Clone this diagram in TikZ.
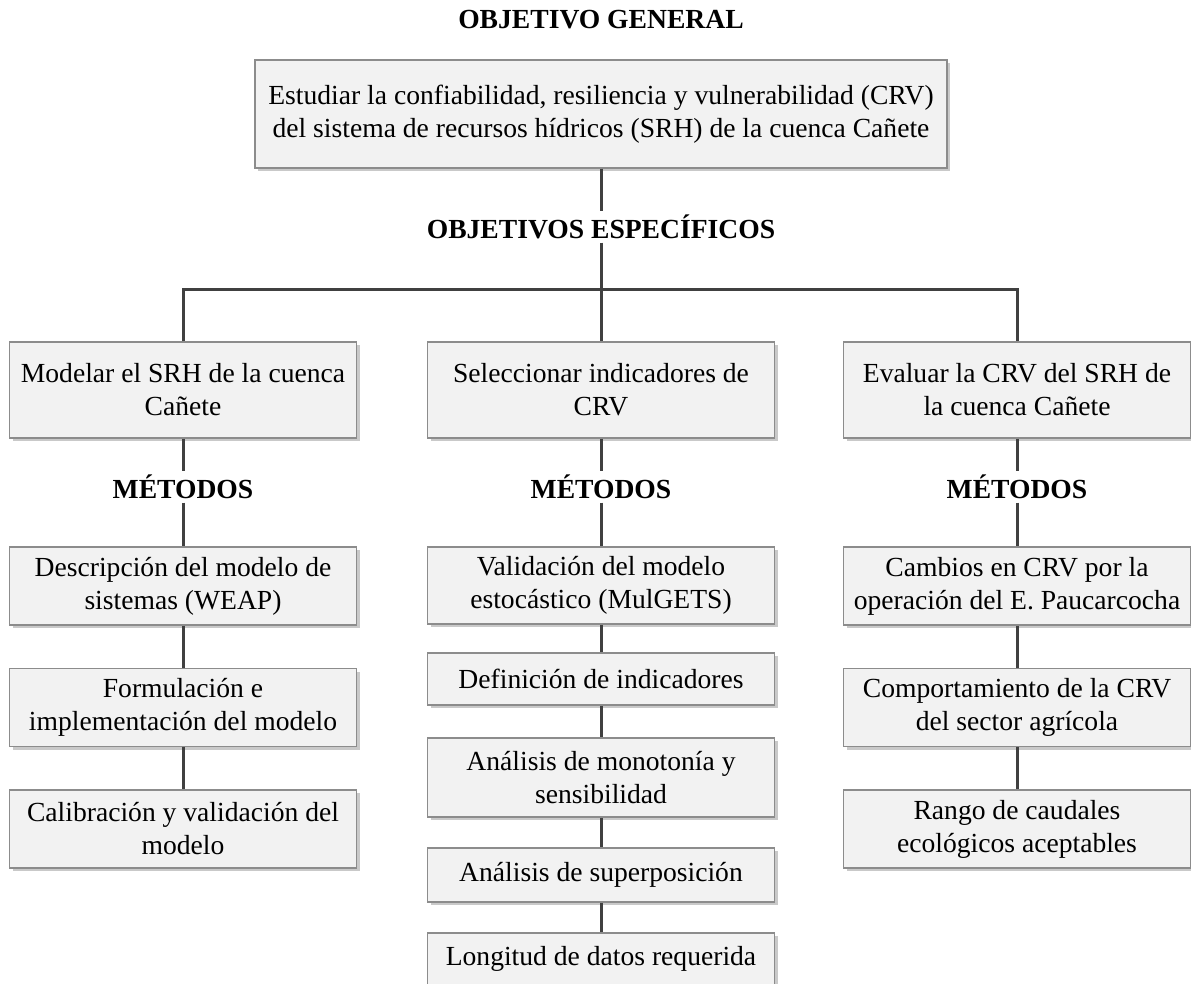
\documentclass[tikz,border=0pt]{standalone}
\usepackage{fontspec}
\setmainfont{Liberation Serif}
\usetikzlibrary{shadows}

\definecolor{boxfill}{HTML}{F2F2F2}
\definecolor{boxline}{HTML}{8C8C8C}
\definecolor{linkcol}{HTML}{404040}

\begin{document}
\begin{tikzpicture}[x=1pt, y=-1pt,
    every node/.style={font=\fontsize{27.6}{33}\selectfont},
    box/.style={draw=boxline, line width=1.5pt, fill=boxfill, align=center,
      inner sep=0pt, minimum width=347pt,
      drop shadow={shadow xshift=3pt, shadow yshift=-3pt, opacity=0.3, fill=black!70}},
    lbl/.style={font=\fontsize{27.6}{33}\selectfont\bfseries, inner sep=0pt, minimum height=31pt},
    link/.style={draw=linkcol, line width=3pt}]
    \useasboundingbox (0,0) rectangle (1191,984);

    % objetivo general
    \node[lbl] (tGen) at (601,20) {OBJETIVO GENERAL};
    \node[box, minimum width=692pt, minimum height=108pt] (gen) at (601,114)
      {Estudiar la confiabilidad, resiliencia y vulnerabilidad (CRV)\\del sistema de recursos hídricos (SRH) de la cuenca Cañete};
    \node[lbl] (tEsp) at (601,227) {OBJETIVOS ESPECÍFICOS};
    \coordinate (jM) at (601,290);

    % objetivos especificos
    \node[box, minimum height=96pt] (esp1) at (183,390) {Modelar el SRH de la cuenca\\Cañete};
    \node[box, minimum height=96pt] (esp2) at (601,390) {Seleccionar indicadores de\\CRV};
    \node[box, minimum height=96pt] (esp3) at (1017,390) {Evaluar la CRV del SRH de\\la cuenca Cañete};
    \foreach \x [count=\c] in {183, 601, 1017}
      \node[lbl] (met\c) at (\x,487) {MÉTODOS};

    % metodos
    \node[box, minimum height=78pt] (a1) at (183,586) {Descripción del modelo de\\sistemas (WEAP)};
    \node[box, minimum height=78pt] (a2) at (183,707.5) {Formulación e\\implementación del modelo};
    \node[box, minimum height=78pt] (a3) at (183,829) {Calibración y validación del\\modelo};

    \node[box, minimum height=77pt] (b1) at (601,585.5) {Validación del modelo\\estocástico (MulGETS)};
    \node[box, minimum height=52pt] (b2) at (601,679) {Definición de indicadores};
    \node[box, minimum height=79pt] (b3) at (601,777.5) {Análisis de monotonía y\\sensibilidad};
    \node[box, minimum height=54pt] (b4) at (601,875) {Análisis de superposición};
    \node[box, minimum height=52pt] (b5) at (601,959) {Longitud de datos requerida};

    \node[box, minimum height=78pt] (c1) at (1017,586) {Cambios en CRV por la\\operación del E. Paucarcocha};
    \node[box, minimum height=78pt] (c2) at (1017,707.5) {Comportamiento de la CRV\\del sector agrícola};
    \node[box, minimum height=78pt] (c3) at (1017,829) {Rango de caudales\\ecológicos aceptables};

    \draw[link] (esp1) |- (jM) -| (esp3);
    \draw[link] (tEsp) -- (jM) -- (esp2);
    \foreach \a/\b in {gen/tEsp, esp1/met1, met1/a1, a1/a2, a2/a3,
        esp2/met2, met2/b1, b1/b2, b2/b3, b3/b4, b4/b5,
        esp3/met3, met3/c1, c1/c2, c2/c3}
      \draw[link] (\a) -- (\b);
\end{tikzpicture}
\end{document}
